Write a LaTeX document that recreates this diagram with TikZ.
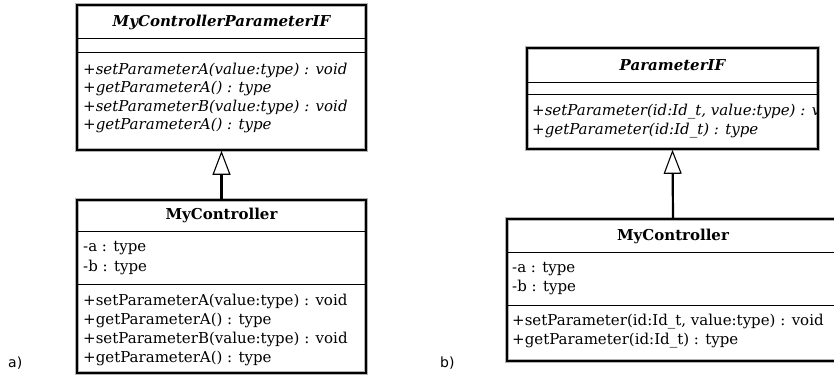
\documentclass[tikz,border=0pt]{standalone}
\usepackage{fontspec}
\setmainfont{DejaVu Serif}
\newfontfamily\labelfont{DejaVu Sans}
\usetikzlibrary{arrows.meta}
\begin{document}
\begin{tikzpicture}[x=1pt,y=-1pt,
  classbox/.style={draw=black, line width=1.6pt, inner sep=0pt,
    preaction={draw=black!30, line width=3.4pt}},
  divider/.style={draw=black, line width=1pt},
  title/.style={inner sep=0pt, font=\fontsize{15}{18}\selectfont\bfseries},
  absttitle/.style={title, font=\fontsize{15}{18}\selectfont\bfseries\itshape},
  member/.style={anchor=west, inner sep=0pt, font=\fontsize{15}{18}\selectfont},
  absmember/.style={member, font=\fontsize{15}{18}\selectfont\itshape},
  tag/.style={anchor=west, inner sep=0pt, font=\labelfont\fontsize{14}{16}\selectfont},
  realizes/.style={line width=2.2pt, -{Triangle[open, length=24pt, width=18pt, line width=1.1pt]}}
]
\clip (0,0) rectangle (834,376);
\fill[white] (0,0) rectangle (834,376);

% ---------- a) ----------
\node[classbox, minimum width=289pt, minimum height=145pt] (ifA) at (221.5,77.5) {};
\draw[divider] (ifA.west |- 0,38) -- (ifA.east |- 0,38);
\draw[divider] (ifA.west |- 0,52) -- (ifA.east |- 0,52);
\node[absttitle] (ifAname) at (221.5,22) {MyControllerParameterIF};
\node[absmember] (ifAop1) at (83,70) {+setParameterA(value:type) : void};
\node[absmember] (ifAop2) at (83,88.5) {+getParameterA() : type};
\node[absmember] (ifAop3) at (83,107) {+setParameterB(value:type) : void};
\node[absmember] (ifAop4) at (83,125.5) {+getParameterA() : type};

\node[classbox, minimum width=289pt, minimum height=173pt] (ctlA) at (221.5,286.5) {};
\draw[divider] (ctlA.west |- 0,231) -- (ctlA.east |- 0,231);
\draw[divider] (ctlA.west |- 0,284) -- (ctlA.east |- 0,284);
\node[title] (ctlAname) at (221.5,215) {MyController};
\node[member] (ctlAat1) at (83,248.5) {-a : type};
\node[member] (ctlAat2) at (83,267.5) {-b : type};
\node[member] (ctlAop1) at (83,301) {+setParameterA(value:type) : void};
\node[member] (ctlAop2) at (83,320) {+getParameterA() : type};
\node[member] (ctlAop3) at (83,339) {+setParameterB(value:type) : void};
\node[member] (ctlAop4) at (83,358.5) {+getParameterA() : type};

\draw[realizes] (ctlA.north) -- (ifA.south);
\node[tag] (labA) at (8,363) {a)};

% ---------- b) ----------
\node[classbox, minimum width=291pt, minimum height=101pt] (ifB) at (672.5,98.5) {};
\draw[divider] (ifB.west |- 0,82) -- (ifB.east |- 0,82);
\draw[divider] (ifB.west |- 0,94) -- (ifB.east |- 0,94);
\node[absttitle] (ifBname) at (672.5,65) {ParameterIF};
\begin{scope}
  \clip (ifB.south west) rectangle (ifB.north east);
  \node[absmember] (ifBop1) at (532,112) {+setParameter(id:Id\_t, value:type) : void};
  \node[absmember] (ifBop2) at (532,131) {+getParameter(id:Id\_t) : type};
\end{scope}

\node[classbox, minimum width=332pt, minimum height=142pt] (ctlB) at (673,290) {};
\draw[divider] (ctlB.west |- 0,252) -- (ctlB.east |- 0,252);
\draw[divider] (ctlB.west |- 0,305) -- (ctlB.east |- 0,305);
\node[title] (ctlBname) at (673,236) {MyController};
\node[member] (ctlBat1) at (512,269) {-a : type};
\node[member] (ctlBat2) at (512,287.5) {-b : type};
\node[member] (ctlBop1) at (512,322) {+setParameter(id:Id\_t, value:type) : void};
\node[member] (ctlBop2) at (512,341) {+getParameter(id:Id\_t) : type};

\draw[realizes] (ctlB.north) -- (ifB.south);
\node[tag] (labB) at (440,363) {b)};
\end{tikzpicture}
\end{document}
